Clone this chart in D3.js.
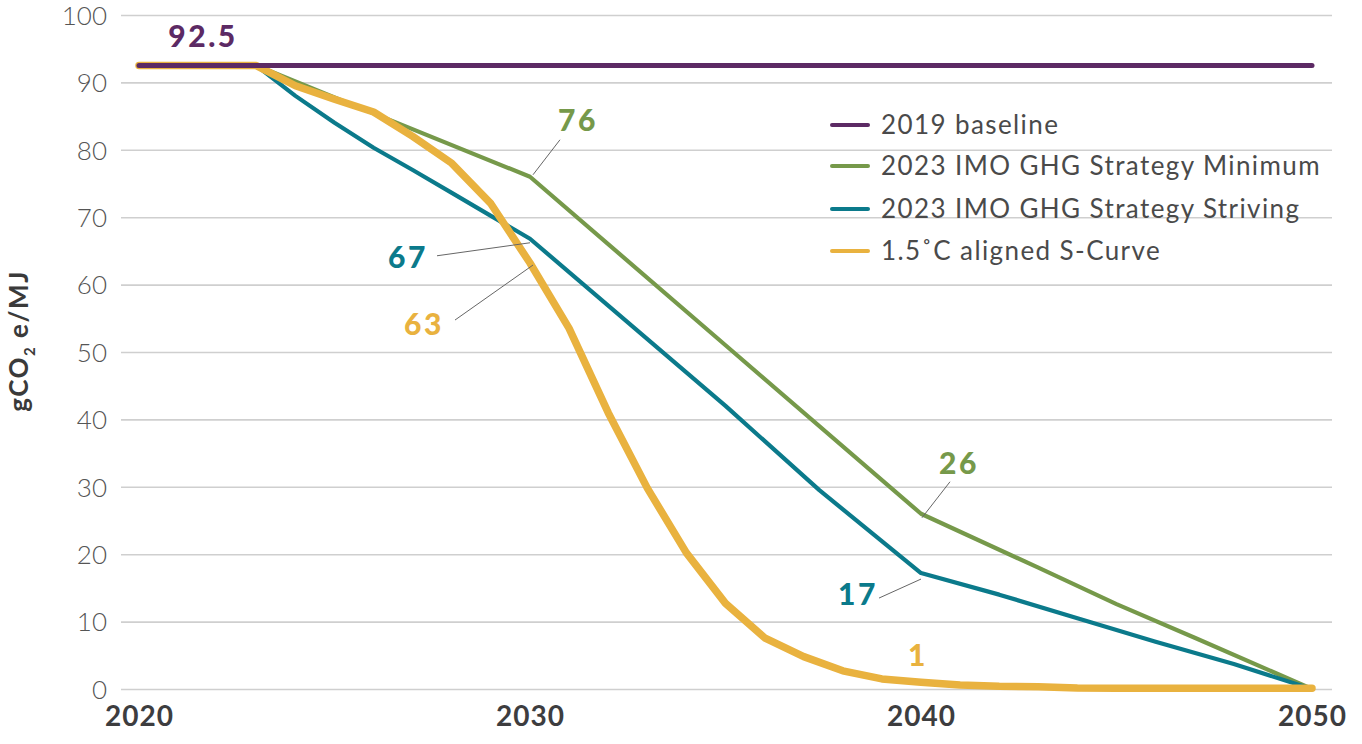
<!DOCTYPE html>
<html><head><meta charset="utf-8">
<script src="https://cdn.jsdelivr.net/npm/d3@7"></script>
<style>
html,body{margin:0;padding:0;background:#fff;}
svg{display:block;font-family:Lato,"Open Sans",sans-serif;}
</style></head>
<body><svg id="c" width="1362" height="744"></svg>
<script>
const yTicks = [0,10,20,30,40,50,60,70,80,90,100];
const xTicks = [2020,2030,2040,2050];

const baselineYears = [2020, 2050];
const baselineVals  = [92.5, 92.5];

const minYears = [2020,2023,2026,2030,2035,2040,2043,2045,2047,2050];
const minVals  = [92.5,92.5,85.4,76,51,26,18,12.6,7.6,0];

const strYears = [2020,2023,2024,2025,2026,2027,2028,2029,2030,2035,2037.4,2040,2042,2044,2046,2048,2050];
const strVals  = [92.5,92.5,88,84,80.3,77,73.6,70.2,66.8,42,29.5,17.2,14,10.5,7,3.7,0];

const sYears = [2020,2023,2024,2025,2026,2027,2028,2029,2030,2031,2032,2033,2034,2035,2036,2037,2038,2039,2040,2041,2042,2043,2044,2045,2046,2047,2048,2049,2050];
const sVals  = [92.5,92.5,89.5,87.5,85.6,82,78,72,63.2,53.5,41,29.8,20.2,12.7,7.6,4.8,2.7,1.5,1,0.6,0.4,0.35,0.15,0.1,0.1,0.1,0.1,0.1,0.1];

const seriesNames = ["2019 baseline","2023 IMO GHG Strategy Minimum","2023 IMO GHG Strategy Striving","1.5˚C aligned S-Curve"];
const seriesColors = ["#5c2a64","#76994a","#0b7a8b","#e9b23f"];

const svg = d3.select("#c");
const x = d3.scaleLinear().domain([2020,2050]).range([139,1312]);
const y = d3.scaleLinear().domain([0,100]).range([689,15]);

// grid + y ticks
const yAxis = d3.axisLeft(y).tickValues(yTicks).tickSize(-(1332-121)).tickPadding(14).tickFormat(d3.format("d"));
const gy = svg.append("g").attr("transform","translate(121,0)").call(yAxis);
gy.select(".domain").remove();
gy.selectAll(".tick line").attr("stroke","#cfcfcf").attr("stroke-width",1.6);
gy.selectAll(".tick text").attr("fill","#555").style("font-size","26px").style("font-family","Lato, sans-serif").style("font-weight",300).attr("dy","0.36em");

const xAxis = d3.axisBottom(x).tickValues(xTicks).tickSize(0).tickPadding(17).tickFormat(d3.format("d"));
const gx = svg.append("g").attr("transform","translate(0,689)").call(xAxis);
gx.select(".domain").remove();
gx.selectAll(".tick text").attr("fill","#3d3d3f").style("font-size","28px").style("letter-spacing","1px").style("font-family","Lato, sans-serif").style("font-weight",700);

// y label
const yl = svg.append("text").attr("transform","translate(28,341) rotate(-90)")
  .attr("text-anchor","middle").attr("fill","#3a3a3a").style("font-size","26px").style("letter-spacing","1.5px").style("font-weight",700);
yl.append("tspan").text("gCO");
yl.append("tspan").text("2").style("font-size","15px").attr("dy",7);
yl.append("tspan").text(" e/MJ").attr("dy",-7);

const line = d3.line().x(d=>x(d[0])).y(d=>y(d[1]));
function series(years, vals){ return years.map((yr,i)=>[yr,vals[i]]); }

const data = [
  {pts:series(minYears,minVals), c:seriesColors[1], w:4.2},
  {pts:series(strYears,strVals), c:seriesColors[2], w:4.2},
  {pts:series(sYears,sVals), c:seriesColors[3], w:7.5},
  {pts:series(baselineYears,baselineVals), c:seriesColors[0], w:5}
];
data.forEach(s=>{
  svg.append("path").datum(s.pts).attr("d",line).attr("fill","none")
    .attr("stroke",s.c).attr("stroke-width",s.w).attr("stroke-linejoin","round").attr("stroke-linecap","round");
});

// annotations
const ann = [
  {t:"92.5", yr:2020, v:92.5, dx:64, dy:-18.5, c:seriesColors[0], lead:false},
  {t:"76", yr:2030, v:76, dx:48, dy:-46, c:seriesColors[1], lead:[3,-2,30,-37]},
  {t:"67", yr:2030, v:66.8, dx:-122, dy:29, c:seriesColors[2], lead:[0,4,-93,17]},
  {t:"63", yr:2030, v:63.2, dx:-106, dy:72, c:seriesColors[3], lead:[3,2,-75,57]},
  {t:"26", yr:2040, v:26, dx:38, dy:-40, c:seriesColors[1], lead:[1,4,29,-32]},
  {t:"17", yr:2040, v:17.2, dx:-63, dy:32, c:seriesColors[2], lead:[0,6,-42,25]},
  {t:"1", yr:2040, v:1, dx:-3, dy:-16, c:seriesColors[3], lead:false}
];
ann.forEach(a=>{
  const px = x(a.yr), py = y(a.v);
  if(a.lead){
    svg.append("line").attr("x1",px+a.lead[0]).attr("y1",py+a.lead[1]).attr("x2",px+a.lead[2]).attr("y2",py+a.lead[3])
      .attr("stroke","#666").attr("stroke-width",1);
  }
  svg.append("text").attr("x",px+a.dx).attr("y",py+a.dy).attr("text-anchor","middle")
    .attr("fill",a.c).style("font-size","30px").style("letter-spacing","2.5px").style("font-weight",900).style("font-family","Lato, sans-serif").text(a.t);
});

// legend
const lg = svg.append("g");
const legY = [125,166,209,251];
seriesNames.forEach((n,i)=>{
  lg.append("line").attr("x1",832).attr("x2",868).attr("y1",legY[i]).attr("y2",legY[i])
    .attr("stroke",seriesColors[i]).attr("stroke-width",4).attr("stroke-linecap","round");
  lg.append("text").attr("x",881).attr("y",legY[i]).attr("dy","0.36em")
    .attr("fill","#4a4a4a").style("font-size","26px").style("letter-spacing","1.4px").style("font-weight",400).style("font-family","Lato, sans-serif").text(n);
});
</script></body></html>
